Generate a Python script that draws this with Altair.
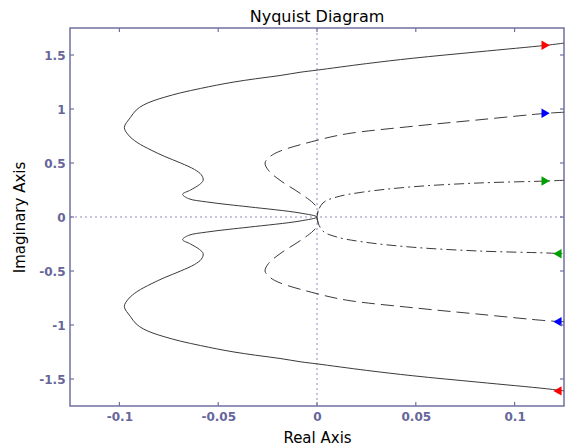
import altair as alt
import pandas as pd

# ---- data ----
solid_x = [0.125, 0.116, 0.082, 0.0485, 0.025, 0.0, -0.0086, -0.0187, -0.031, -0.042, -0.051,
           -0.059, -0.069, -0.077, -0.083, -0.088, -0.0915, -0.0945, -0.0975,
           -0.0955, -0.091, -0.084, -0.077, -0.069, -0.062, -0.0585, -0.0576, -0.0595,
           -0.064, -0.068, -0.065, -0.056, -0.045, -0.034, -0.0086, 0.0]
solid_y = [1.61, 1.59, 1.53, 1.47, 1.42, 1.36, 1.34, 1.31, 1.28, 1.25, 1.22,
           1.19, 1.15, 1.11, 1.075, 1.035, 0.99, 0.92, 0.83,
           0.76, 0.69, 0.62, 0.56, 0.50, 0.44, 0.39, 0.34, 0.30,
           0.25, 0.21, 0.17, 0.14, 0.115, 0.093, 0.037, 0.0]

dash_x = [0.125, 0.116, 0.082, 0.0485, 0.015, 0.0, -0.0187, -0.0237, -0.0263, -0.0245,
          -0.0187, -0.0086, -0.002, 0.0005, 0.0]
dash_y = [0.97, 0.96, 0.90, 0.84, 0.77, 0.71, 0.61, 0.56, 0.50, 0.43,
          0.34, 0.22, 0.13, 0.07, 0.0]

dd_x = [0.125, 0.116, 0.082, 0.0485, 0.023, 0.01, 0.003, 0.0]
dd_y = [0.34, 0.333, 0.315, 0.28, 0.23, 0.185, 0.13, 0.0]

arrow_x = [0.1157, 0.1157, 0.1157, 0.1217, 0.1217, 0.1217]
arrow_y = [1.59, 0.96, 0.333, -1.61, -0.97, -0.34]
arrow_shape = ["triangle-right", "triangle-right", "triangle-right",
               "triangle-left", "triangle-left", "triangle-left"]
arrow_color = ["#ff0000", "#0000ff", "#00a000", "#ff0000", "#0000ff", "#00a000"]

x_ticks = [-0.1, -0.05, 0, 0.05, 0.1]
y_ticks = [-1.5, -1, -0.5, 0, 0.5, 1, 1.5]

W, H = 494, 378
AX = "#7070a0"
LBL = "#66669a"


def closed(xs, ys, name):
    rows = []
    n = len(xs)
    for i in range(n):
        rows.append({"x": xs[i], "y": ys[i], "o": i, "c": name})
    for i in range(n - 2, -1, -1):
        rows.append({"x": xs[i], "y": -ys[i], "o": 2 * n - 2 - i, "c": name})
    return pd.DataFrame(rows)


x_enc = alt.X("x:Q", scale=alt.Scale(domain=[-0.125, 0.125], nice=False, zero=False),
              axis=alt.Axis(values=x_ticks, labelExpr="'' + datum.value", title="Real Axis",
                            grid=False, ticks=False, tickSize=0, domain=False,
                            labelPadding=5, titlePadding=8))
y_enc = alt.Y("y:Q", scale=alt.Scale(domain=[-1.75, 1.75], nice=False, zero=False),
              axis=alt.Axis(values=y_ticks, labelExpr="'' + datum.value", title="Imaginary Axis",
                            grid=False, ticks=False, tickSize=0, domain=False,
                            labelPadding=5, titlePadding=11))

def curve(df, dash):
    m = alt.Chart(df).mark_line(color="#3a3a3a", strokeWidth=1, interpolate="catmull-rom",
                                strokeDash=dash) if dash else \
        alt.Chart(df).mark_line(color="#3a3a3a", strokeWidth=1, interpolate="catmull-rom")
    return m.encode(x=x_enc, y=y_enc, order="o:Q")

solid = curve(closed(solid_x, solid_y, "s"), None)
dashed = curve(closed(dash_x, dash_y, "d"), [13, 6])
dashdot = curve(closed(dd_x, dd_y, "dd"), [10, 4, 2, 4])

zero_df = pd.DataFrame({"x": [0.0], "y": [0.0]})
zx = alt.Chart(zero_df).mark_rule(color="#8c8cc0", strokeDash=[2, 3], strokeWidth=1).encode(
    x=x_enc, y=alt.value(0), y2=alt.value(H))
zy = alt.Chart(zero_df).mark_rule(color="#8c8cc0", strokeDash=[2, 3], strokeWidth=1).encode(
    y=y_enc, x=alt.value(0), x2=alt.value(W))

xt = pd.DataFrame({"x": x_ticks})
yt = pd.DataFrame({"y": y_ticks})
tk = dict(color=AX, strokeWidth=1.2)
t_bottom = alt.Chart(xt).mark_rule(**tk).encode(x=x_enc, y=alt.value(H), y2=alt.value(H - 4))
t_top = alt.Chart(xt).mark_rule(**tk).encode(x=x_enc, y=alt.value(0), y2=alt.value(4))
t_left = alt.Chart(yt).mark_rule(**tk).encode(y=y_enc, x=alt.value(0), x2=alt.value(4))
t_right = alt.Chart(yt).mark_rule(**tk).encode(y=y_enc, x=alt.value(W), x2=alt.value(W - 4))

arr_df = pd.DataFrame({"x": arrow_x, "y": arrow_y, "s": arrow_shape, "col": arrow_color})
arrows = alt.Chart(arr_df).mark_point(filled=True, size=90, opacity=1, strokeWidth=0).encode(
    x=x_enc, y=y_enc,
    shape=alt.Shape("s:N", scale=None, legend=None),
    color=alt.Color("col:N", scale=None, legend=None))

chart = alt.layer(zx, zy, solid, dashed, dashdot, arrows, t_bottom, t_top, t_left, t_right).properties(
    width=W, height=H,
    title=alt.TitleParams("Nyquist Diagram", font="DejaVu Sans", fontSize=16,
                          fontWeight="normal", color="black", offset=2),
    autosize=alt.AutoSizeParams(type="none"),
    padding={"left": 62, "top": 20, "right": 2, "bottom": 40},
).configure_view(stroke=AX, strokeWidth=1.5).configure_axis(
    labelFont="DejaVu Sans", labelFontSize=12, labelFontWeight="bold", labelColor=LBL,
    titleFont="DejaVu Sans", titleFontSize=15, titleFontWeight="normal", titleColor="black",
)

chart.save("out.html", embed_options={"renderer": "svg", "actions": False})
